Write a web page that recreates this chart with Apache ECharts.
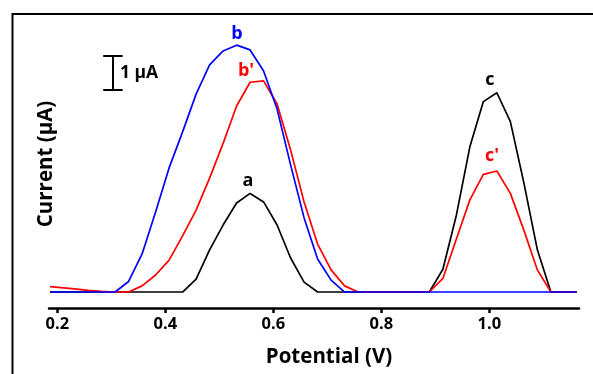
<!DOCTYPE html>
<html>
<head>
<meta charset="utf-8">
<script src="https://cdn.jsdelivr.net/npm/echarts@6/dist/echarts.min.js"></script>
<style>
html,body{margin:0;padding:0;background:#fff;}
#chart{width:593px;height:374px;}
</style>
</head>
<body>
<div id="chart"></div>
<script>
// ---- data (potential in V, current in µA) ----
const tickValues = [0.2, 0.4, 0.6, 0.8, 1.0];

const aPotential = [0.1865, 0.432, 0.457, 0.482, 0.507, 0.532, 0.557, 0.582, 0.607, 0.632, 0.657, 0.682,
                    0.889, 0.914, 0.939, 0.964, 0.989, 1.014, 1.039, 1.064, 1.089, 1.114, 1.162];
const aCurrent   = [0, 0, 0.38, 1.24, 1.97, 2.62, 2.90, 2.65, 1.97, 1.00, 0.29, 0,
                    0, 0.67, 2.26, 4.27, 5.60, 5.86, 5.01, 3.21, 1.24, 0, 0];

const bpPotential = [0.1865, 0.207, 0.232, 0.257, 0.282, 0.307, 0.332, 0.357, 0.382, 0.407, 0.432, 0.457,
                     0.482, 0.507, 0.532, 0.557, 0.582, 0.607, 0.632, 0.657, 0.682, 0.707, 0.732, 0.757,
                     0.889, 0.914, 0.939, 0.964, 0.989, 1.014, 1.039, 1.064, 1.089, 1.114, 1.162];
const bpCurrent   = [0.16, 0.13, 0.09, 0.05, 0.02, 0, 0, 0.18, 0.50, 0.94, 1.65, 2.41,
                     3.35, 4.37, 5.47, 6.17, 6.21, 5.53, 4.18, 2.65, 1.41, 0.65, 0.18, 0,
                     0, 0.40, 1.56, 2.71, 3.46, 3.56, 2.90, 1.82, 0.65, 0, 0];

const bPotential = [0.1865, 0.307, 0.332, 0.357, 0.382, 0.407, 0.432, 0.457, 0.482, 0.507, 0.532, 0.557,
                    0.582, 0.607, 0.632, 0.657, 0.682, 0.707, 0.732, 1.162];
const bCurrent   = [0, 0, 0.31, 1.12, 2.35, 3.65, 4.71, 5.82, 6.68, 7.09, 7.26, 7.12,
                    6.50, 5.38, 3.74, 2.18, 0.97, 0.35, 0, 0];

// scale bar: 1 µA
const scaleBarX = 0.303;
const scaleBarY = [5.94, 6.94];
const scaleCap = 0.018;

function pairs(xs, ys) { return xs.map((x, i) => [x, ys[i]]); }

const chart = echarts.init(document.getElementById('chart'), null, {renderer: 'canvas'});
const FONT = '"Open Sans", "DejaVu Sans", sans-serif';

const lineStyleBase = {width: 1.7};

chart.setOption({
  animation: false,
  backgroundColor: '#fff',
  grid: {left: 49, right: 14, top: 20, bottom: 66},
  xAxis: {
    type: 'value',
    min: 0.1846,
    max: 1.1661,
    splitLine: {show: false},
    axisLine: {show: true, onZero: false, lineStyle: {color: '#000', width: 2.5}},
    axisTick: {show: true, inside: false, length: 5, customValues: tickValues, lineStyle: {color: '#000', width: 2.5}},
    axisLabel: {
      customValues: tickValues,
      formatter: v => Number(v).toFixed(1),
      color: '#000', fontFamily: FONT, fontWeight: 'bold', fontSize: 16.5, margin: 8
    }
  },
  yAxis: {
    type: 'value',
    min: -0.47,
    max: 8,
    show: false
  },
  series: [
    {type: 'line', name: 'a', data: pairs(aPotential, aCurrent), symbol: 'none',
     lineStyle: Object.assign({color: '#000'}, lineStyleBase), z: 2},
    {type: 'line', name: "b'", data: pairs(bpPotential, bpCurrent), symbol: 'none',
     lineStyle: Object.assign({color: '#ff0000'}, lineStyleBase), z: 3},
    {type: 'line', name: 'b', data: pairs(bPotential, bCurrent), symbol: 'none',
     lineStyle: Object.assign({color: '#0000ff'}, lineStyleBase), z: 4},
    {type: 'lines', coordinateSystem: 'cartesian2d', polyline: false, z: 5,
     lineStyle: {color: '#000', width: 2, opacity: 1},
     data: [
       {coords: [[scaleBarX, scaleBarY[0]], [scaleBarX, scaleBarY[1]]]},
       {coords: [[scaleBarX - scaleCap, scaleBarY[0]], [scaleBarX + scaleCap, scaleBarY[0]]]},
       {coords: [[scaleBarX - scaleCap, scaleBarY[1]], [scaleBarX + scaleCap, scaleBarY[1]]]}
     ]}
  ],
  graphic: [
    {type: 'rect', shape: {x: 12.5, y: 14, width: 700, height: 500}, silent: true,
     style: {fill: 'none', stroke: '#000', lineWidth: 2}, z: 10},
    {type: 'text', x: 46, y: 164, rotation: Math.PI / 2,
     style: {text: 'Current (µA)', fill: '#000', font: 'bold 20.5px ' + FONT, textAlign: 'center', textVerticalAlign: 'middle'}},
    {type: 'text', x: 329, y: 357,
     style: {text: 'Potential (V)', fill: '#000', font: 'bold 20.5px ' + FONT, textAlign: 'center', textVerticalAlign: 'middle'}},
    {type: 'text', x: 120, y: 73,
     style: {text: '1 µA', fill: '#000', font: 'bold 17.5px ' + FONT, textAlign: 'left', textVerticalAlign: 'middle'}},
    {type: 'text', x: 237, y: 34,
     style: {text: 'b', fill: '#0000ff', font: 'bold 18px ' + FONT, textAlign: 'center', textVerticalAlign: 'middle'}},
    {type: 'text', x: 246, y: 71,
     style: {text: "b'", fill: '#ff0000', font: 'bold 18px ' + FONT, textAlign: 'center', textVerticalAlign: 'middle'}},
    {type: 'text', x: 248, y: 181,
     style: {text: 'a', fill: '#000', font: 'bold 18px ' + FONT, textAlign: 'center', textVerticalAlign: 'middle'}},
    {type: 'text', x: 490, y: 80,
     style: {text: 'c', fill: '#000', font: 'bold 18px ' + FONT, textAlign: 'center', textVerticalAlign: 'middle'}},
    {type: 'text', x: 492, y: 156,
     style: {text: "c'", fill: '#ff0000', font: 'bold 18px ' + FONT, textAlign: 'center', textVerticalAlign: 'middle'}}
  ]
});
</script>
</body>
</html>
